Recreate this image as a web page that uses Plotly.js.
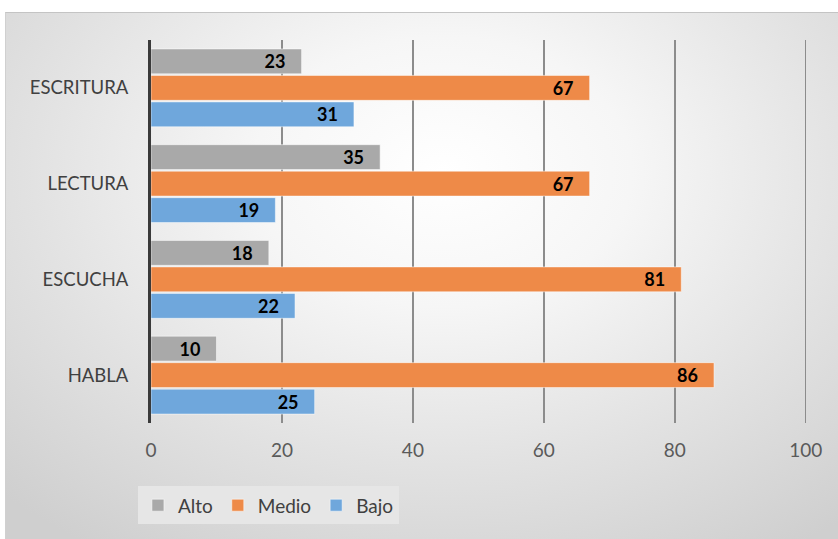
<!DOCTYPE html>
<html>
<head>
<meta charset="utf-8">
<script src="https://cdn.plot.ly/plotly-3.0.1.min.js"></script>
<style>
  html, body { margin: 0; padding: 0; background: #ffffff; }
  #wrap { position: relative; width: 838px; height: 539px; overflow: hidden; }
  #bg { position: absolute; left: 5px; top: 12px; width: 840px; height: 530px;
        border-top: 1px solid #c4c4c4; border-left: 1px solid #d0d0d0;
        background: radial-gradient(ellipse 75% 85% at 52% 30%, #ffffff 0%, #f6f6f6 30%, #e2e2e2 65%, #cfcfcf 100%); }
  #chart { position: absolute; left: 0; top: 0; width: 838px; height: 539px; }
</style>
</head>
<body>
<div id="wrap">
  <div id="bg"></div>
  <div id="chart"></div>
</div>
<script>
// categories listed bottom to top
const categories = ['HABLA', 'ESCUCHA', 'LECTURA', 'ESCRITURA'];
const alto  = [10, 18, 35, 23];
const medio = [86, 81, 67, 67];
const bajo  = [25, 22, 19, 31];
const xTicks = [0, 20, 40, 60, 80, 100];

const labelFont = { family: 'Lato, "Open Sans", sans-serif', size: 18, color: '#000000', weight: 'bold' };

function barTrace(name, values, color) {
  return {
    type: 'bar',
    orientation: 'h',
    name: name,
    y: categories,
    x: values,
    text: values.map(v => v + '\u00a0\u00a0\u00a0'),
    texttemplate: '%{text}',
    textposition: 'inside',
    insidetextanchor: 'end',
    constraintext: 'none',
    textfont: labelFont,
    marker: { color: color, line: { color: 'rgba(255,255,255,0.5)', width: 1 } },
    hoverinfo: 'x+y+name'
  };
}

const data = [
  barTrace('Bajo', bajo, '#6fa7dc'),
  barTrace('Medio', medio, '#ee8a48'),
  barTrace('Alto', alto, '#a9a9a9')
];

const layout = {
  width: 838,
  height: 539,
  paper_bgcolor: 'rgba(0,0,0,0)',
  plot_bgcolor: 'rgba(0,0,0,0)',
  margin: { l: 151, r: 31, t: 40, b: 116 },
  barmode: 'group',
  bargap: 0.17,
  bargroupgap: 0.06,
  font: { family: 'Lato, "Open Sans", sans-serif', color: '#404040' },
  xaxis: {
    range: [0, 100.2],
    tickvals: xTicks,
    ticktext: xTicks.map(String),
    showgrid: true,
    gridcolor: '#8c8c8c',
    gridwidth: 1.5,
    zeroline: false,
    showline: false,
    ticks: '',
    ticklabelstandoff: 14,
    tickfont: { size: 19, color: '#5a5a5a' },
    fixedrange: true
  },
  yaxis: {
    type: 'category',
    showgrid: false,
    zeroline: false,
    showline: true,
    linecolor: '#3a3a3a',
    linewidth: 3,
    ticks: '',
    ticklabelstandoff: 16,
    tickfont: { size: 18.5, color: '#404040' },
    fixedrange: true
  },
  showlegend: true,
  legend: {
    orientation: 'h',
    traceorder: 'reversed',
    x: 0.179,
    xanchor: 'center',
    y: -0.215,
    yanchor: 'middle',
    bgcolor: '#e6e6e6',
    borderwidth: 0,
    font: { size: 19, color: '#404040' },
    itemwidth: 30
  }
};

Plotly.newPlot('chart', data, layout, { displayModeBar: false, staticPlot: true });
</script>
</body>
</html>
